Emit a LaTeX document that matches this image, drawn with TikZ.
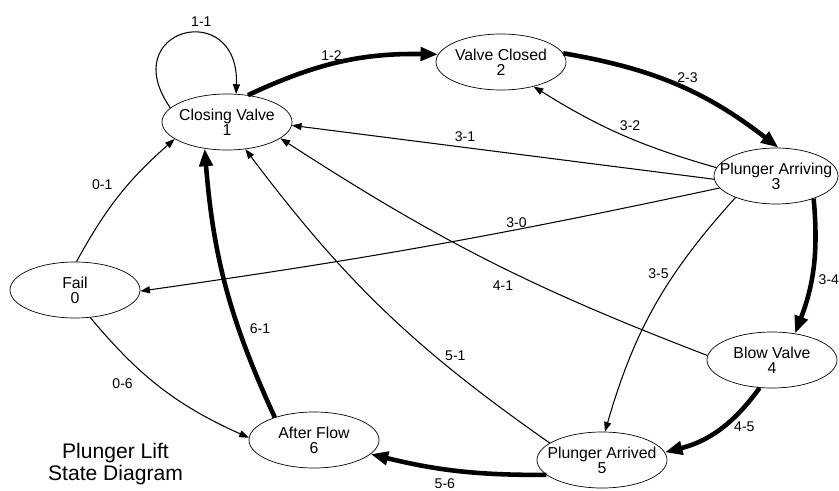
\documentclass[tikz,border=0pt]{standalone}
\usepackage{fontspec}
\setmainfont{Liberation Sans}
\usetikzlibrary{arrows.meta,positioning,shapes.geometric}

\newcommand{\statetext}[2]{\makebox[0pt]{#1}\\ #2}

\begin{document}
\begin{tikzpicture}[>={Triangle[length=5.5pt,width=4pt]}]
        \tikzset{state/.style={draw, ellipse, on grid, inner sep=0pt, align=center, minimum width=2.6cm, minimum height=1.12cm, font=\fontsize{9}{8.6}\selectfont},
        move/.style={draw, ->, line width=0.6pt},
        mainmove/.style={draw, line width=2.6pt, -{Triangle[length=10pt,width=7.5pt]}},
        lbl/.style={font=\fontsize{8}{8}\selectfont, inner sep=1pt},
        }
        \useasboundingbox (0,0) rectangle (16.78,-9.82);
        \node [state] (Closing) at (4.54,-2.44) {\statetext{Closing Valve}{1}};
        \node [state, above right=1.2cm and 5.48cm of Closing] (Closed) {\statetext{Valve Closed}{2}};
        \node [state, minimum width=2.48cm, below right=2.28cm and 5.5cm of Closed] (Arriving) {\statetext{Plunger Arriving}{3}};
        \node [state, below left=3.68cm and 0.08cm of Arriving] (Blow) {\statetext{Blow Valve}{4}};
        \node [state, below left=2cm and 3.4cm of Blow] (Arrived) {\statetext{Plunger Arrived}{5}};
        \node [state, above left=0.4cm and 5.76cm of Arrived] (After) {\statetext{After Flow}{6}};
        \node [state, below left=3.36cm and 3.04cm of Closing] (Fail) {\statetext{Fail}{0}};
        \node [on grid, align=center, font=\fontsize{12}{13}\selectfont, below left=0.48cm and 3.97cm of After] (title) {Plunger Lift\\ State Diagram};

%% thin transitions
        \path[every edge/.append style={move}]
                    (Closing.166) edge[out=125, in=88, looseness=3.7] node[lbl, pos=0.62, above=3pt] {1-1} (Closing.72)
                    (Arriving.172) edge[bend left=8] node[lbl, pos=0.45, above=3pt] {3-2} (Closed.-37)
                    (Arriving.-177) edge node[lbl, pos=0.59, above=2pt] {3-1} (Closing.-3.5)
                    (Arriving.-168) edge[bend left=2] node[lbl, pos=0.34, above] {3-0} (Fail.-1)
                    (Arriving.-152) edge[bend right=13] node[lbl, pos=0.35, left=2pt] {3-5} (Arrived.84)
                    (Blow.176) edge[bend left=6] node[lbl, pos=0.46, below=6pt] {4-1} (Closing.-17)
                    (Arrived.162) edge[bend left=9] node[lbl, pos=0.3, above right] {5-1} (Closing.-56)
                    (Fail.87) edge[bend left=10] node[lbl, pos=0.6, left=8pt] {0-1} (Closing.-162)
                    (Fail.-61) edge[bend right=13] node[lbl, pos=0.25, below=11pt, xshift=-2pt] {0-6} (After.178)
                    ;
%% main cycle
        \path[every edge/.append style={mainmove}]
                    (Closing.52) edge[bend left=13] node[lbl, pos=0.45, above] {1-2} (Closed.173)
                    (Closed.8) edge[bend left=14] node[lbl, pos=0.55, above=2pt] {2-3} (Arriving.85)
                    (Arriving.-31) edge[bend left=13] node[lbl, pos=0.6, right=2pt] {3-4} (Blow.49)
                    (Blow.-114) edge[bend left=20] node[lbl, pos=0.45, right=4pt] {4-5} (Arrived.7)
                    (Arrived.-165) edge[bend left=7] node[lbl, pos=0.58, below=3pt] {5-6} (After.-14)
                    (After.150) edge[bend left=10] node[lbl, pos=0.33, right=4pt] {6-1} (Closing.-130)
                    ;
\end{tikzpicture}
\end{document}
